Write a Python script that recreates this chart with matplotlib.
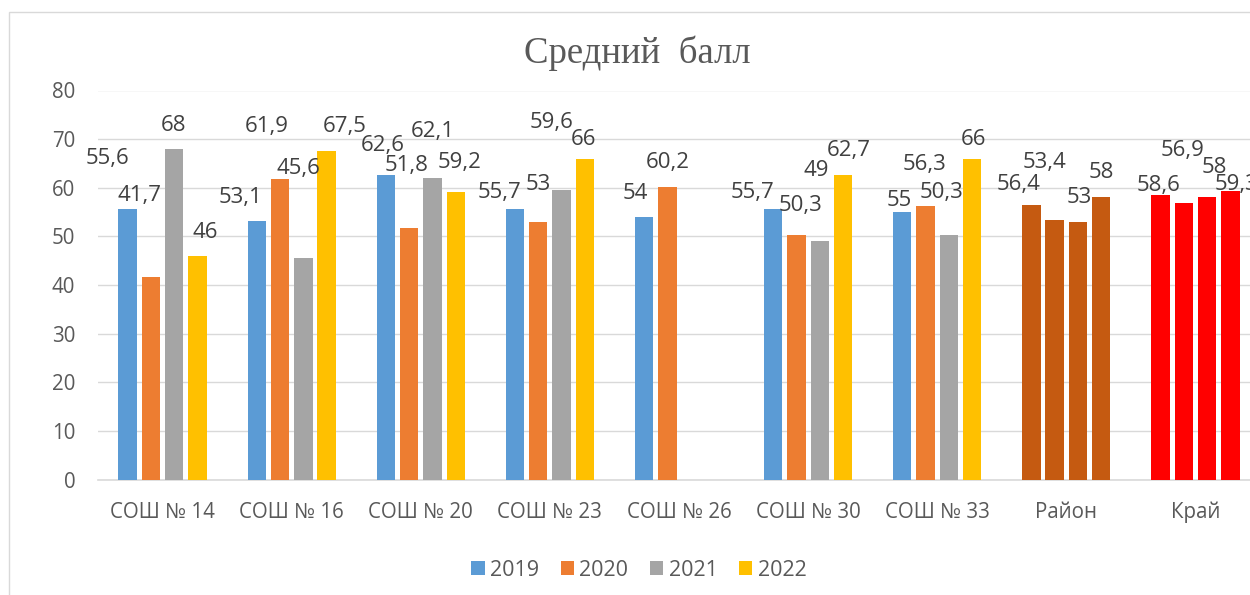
import numpy as np
import matplotlib
matplotlib.use("Agg")
import matplotlib.pyplot as plt
from matplotlib.patches import Rectangle, Patch

plt.rcParams['font.family'] = ['Open Sans', 'DejaVu Sans']

categories = ["СОШ № 14", "СОШ № 16", "СОШ № 20", "СОШ № 23", "СОШ № 26",
              "СОШ № 30", "СОШ № 33", "Район", "Край"]
years = ["2019", "2020", "2021", "2022"]
v2019 = [55.6, 53.1, 62.6, 55.7, 54.0, 55.7, 55.0, 56.4, 58.6]
v2020 = [41.7, 61.9, 51.8, 53.0, 60.2, 50.3, 56.3, 53.4, 56.9]
v2021 = [68.0, 45.6, 62.1, 59.6, np.nan, 49.0, 50.3, 53.0, 58.0]
v2022 = [46.0, 67.5, 59.2, 66.0, np.nan, 62.7, 66.0, 58.0, 59.3]
series = [v2019, v2020, v2021, v2022]

series_colors = ["#5B9BD5", "#ED7D31", "#A5A5A5", "#FFC000"]
group_colors = {"Район": "#C55A11", "Край": "#FF0000"}

# label offsets (pixels) relative to bar top-centre: (dx, dy up)
label_dx = [
    [-20, -16.5, -3, -15, -8.5, -21, -3, -13, -2],
    [-11, -13, -3, 0.5, 0, 4.5, -1, -10, -1.5],
    [-0.5, -4.5, 0, -9.5, 0, -3.5, -7, 1, 7],
    [8, 18.5, 4, -1, 0, 6, 1.5, 0.5, 6.5],
]
label_dy = [
    [51, 23.8, 30.1, 16.2, 23.4, 16.2, 11.6, 20.3, 9.1],
    [81.7, 52.5, 62.6, 36.8, 23.8, 29.9, 41.7, 57.8, 52.3],
    [23.8, 89.3, 46.5, 66.7, 0, 70.7, 42.4, 24.3, 30],
    [23.8, 24.8, 29.1, 19.1, 0, 24.1, 19.1, 25, 6.2],
]

DPI = 100
fig = plt.figure(figsize=(12.5, 5.95), dpi=DPI)
fig.patches.append(Rectangle((9 / 1250, -0.1), 1.2, (1 - 12 / 595) + 0.1,
                             transform=fig.transFigure, fill=False,
                             edgecolor="#D9D9D9", linewidth=1.0))

ax = fig.add_axes([98.05 / 1250, 1 - 479.5 / 595, 1161.9 / 1250, 389 / 595])
x = np.arange(len(categories))
pitch = 0.1805
width = 0.143
px2pt = 72 / DPI

for i, vals in enumerate(series):
    offs = (i - 1.5) * pitch
    cols = [group_colors.get(c, series_colors[i]) for c in categories]
    ax.bar(x + offs, vals, width=width, color=cols, zorder=3, linewidth=0)
    for j, v in enumerate(vals):
        if np.isnan(v):
            continue
        lab = f"{v:g}".replace(".", ",")
        ax.annotate(lab, xy=(x[j] + offs, v),
                    xytext=(label_dx[i][j] * px2pt, label_dy[i][j] * px2pt),
                    textcoords="offset points", ha="center", va="center",
                    fontsize=16, color="#404040", annotation_clip=False,
                    zorder=4)

ax.set_xlim(-0.5, len(categories) - 0.5)
ax.set_ylim(0, 80)
ax.set_yticks(np.arange(0, 81, 10))
ax.set_xticks(x)
ax.set_xticklabels(categories)
ax.grid(axis="y", color="#D9D9D9", linewidth=1.0, zorder=0)
ax.set_axisbelow(True)
for s in ["top", "right", "left"]:
    ax.spines[s].set_visible(False)
ax.spines["bottom"].set_color("#D9D9D9")
ax.spines["bottom"].set_linewidth(1.2)
ax.tick_params(axis="both", length=0, labelsize=14.8, colors="#595959")
ax.tick_params(axis="x", pad=16)
ax.tick_params(axis="y", pad=16.5)

fig.text(637 / 1250, 1 - 53 / 595, "Средний  балл", ha="center", va="center",
         fontsize=26.5, color="#595959", family=["Liberation Serif", "DejaVu Serif"])

handles = [Patch(facecolor=c, edgecolor="none") for c in series_colors]
fig.legend(handles, years, loc="center", bbox_to_anchor=(639 / 1250, 1 - 570 / 595),
           ncol=4, frameon=False, fontsize=15.5, labelcolor="#595959",
           handlelength=0.62, handleheight=0.62, handletextpad=0.25,
           columnspacing=1.0)

fig.savefig("out.png", dpi=DPI)
